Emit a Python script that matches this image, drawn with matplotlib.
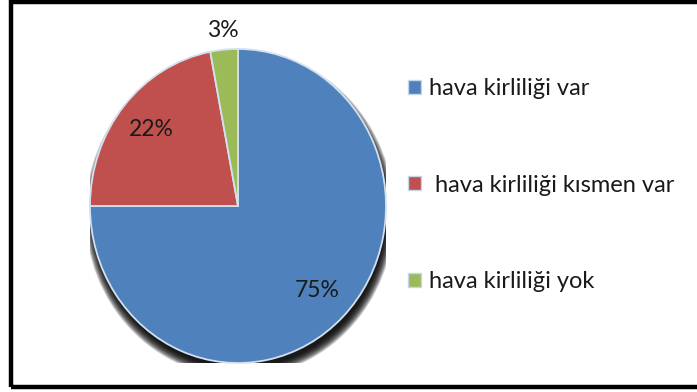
import numpy as np
import matplotlib
matplotlib.use("Agg")
import matplotlib.pyplot as plt
from matplotlib.patches import Ellipse, Rectangle

categories = ["hava kirliliği var", " hava kirliliği kısmen var", "hava kirliliği yok"]
values = [75, 22, 3]
colors = ["#4F81BD", "#C0504D", "#9BBB59"]

plt.rcParams['font.family'] = ['Lato', 'DejaVu Sans']

W, H = 697, 392
fig = plt.figure(figsize=(W / 100, H / 100), dpi=100)
fig.patch.set_facecolor("white")

cx, cy, rx, ry = 238, 206, 148, 157
ax = fig.add_axes([(cx - rx) / W, (H - cy - ry) / H, 2 * rx / W, 2 * ry / H])

wedges, texts, autotexts = ax.pie(
    values, colors=colors, startangle=90, counterclock=False,
    autopct='%1.0f%%', pctdistance=0.76,
    wedgeprops=dict(edgecolor="#D3E0F0", linewidth=1.3),
    textprops=dict(fontsize=16.5, color="#1a1a1a"))

# soft shadow under the pie
for i in range(16):
    t = i / 15
    ax.add_patch(Ellipse((0.012, -0.05), 2 * (1.045 - 0.06 * t), 2 * (1.04 - 0.06 * t),
                         facecolor="black", edgecolor="none", alpha=0.13, zorder=0))
for w in wedges:
    w.set_zorder(2)
for t in autotexts:
    t.set_zorder(3)

# small slice label outside
w = wedges[2]
ang = np.deg2rad((w.theta1 + w.theta2) / 2)
autotexts[2].set_position((1.12 * np.cos(ang), 1.12 * np.sin(ang)))

ax.set_aspect('auto')
ax.set_xlim(-1, 1)
ax.set_ylim(-1, 1)
ax.axis('off')

leg = fig.legend(wedges, categories, loc='upper left',
                 bbox_to_anchor=(408 / W, 1 - 78 / H), frameon=False,
                 fontsize=17, labelspacing=3.2, handlelength=0.55, handleheight=0.55,
                 handletextpad=0.35, borderpad=0, borderaxespad=0)
for h in leg.legend_handles:
    h.set_edgecolor("#C6D5EA")
    h.set_linewidth(1.0)
for t in leg.get_texts():
    t.set_color("#1a1a1a")

# figure frame (left, top, bottom)
fig.add_artist(Rectangle((11 / W, 5 / H), 720 / W, 385.5 / H,
                         transform=fig.transFigure, facecolor="none",
                         edgecolor="black", linewidth=3.2, clip_on=False))

fig.savefig("out.png", dpi=100, facecolor="white")
